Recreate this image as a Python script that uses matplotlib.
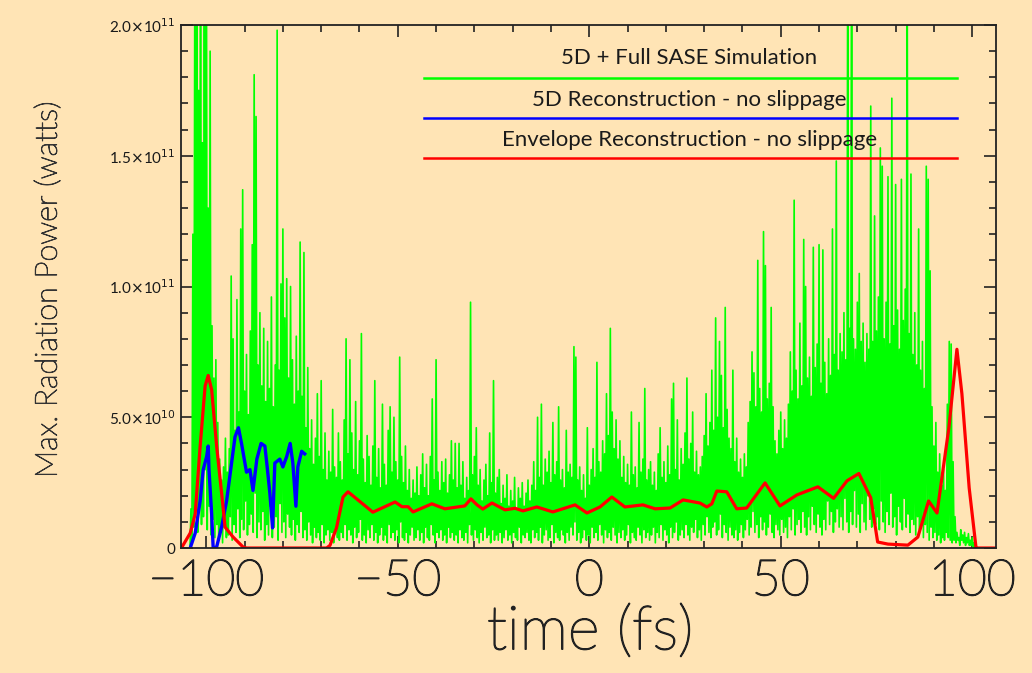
import numpy as np
import matplotlib
matplotlib.use('Agg')
import matplotlib.pyplot as plt
import matplotlib.patheffects as pe
from matplotlib.ticker import FixedLocator, MultipleLocator

BG = '#FFE4B5'
INK = '#1a1a1a'
plt.rcParams['font.family'] = ['Lato', 'DejaVu Sans']

# all powers in units of 1e10 W
# SASE spikes: peak values at t = -104 + 0.5*i fs, floor values 0.25 fs before each peak
green_peak = [
    1.5, 12.0, 22.0, 24.0, 17.5, 26.0, 15.5, 23.0, 28.0, 13.0, 19.0, 8.5, 6.5, 7.2, 4.8, 3.4, 2.6, 3.1, 4.2, 2.9,
    3.8, 10.4, 8.0, 4.5, 9.5, 5.2, 12.2, 13.7, 6.0, 7.4, 5.1, 8.3, 11.6, 18.1, 16.5, 7.0, 9.0, 6.2, 8.4, 5.6,
    7.9, 6.1, 9.6, 5.4, 7.0, 19.8, 6.8, 10.1, 12.2, 8.8, 10.3, 6.5, 10.0, 7.2, 5.5, 8.1, 6.0, 11.7, 5.8, 11.3,
    4.6, 6.9, 3.8, 4.9, 3.2, 4.2, 5.9, 3.5, 6.4, 3.0, 4.4, 2.6, 3.7, 2.9, 5.3, 3.1, 2.7, 4.4, 3.3, 2.6,
    4.9, 8.0, 3.6, 7.2, 4.4, 3.0, 5.6, 2.8, 4.1, 8.2, 3.4, 2.5, 4.3, 3.5, 2.4, 3.9, 6.4, 2.7, 3.8, 2.3,
    5.5, 3.2, 2.4, 4.5, 5.4, 2.9, 5.0, 3.3, 2.6, 7.3, 3.5, 2.5, 3.9, 2.2, 3.0, 1.9, 2.6, 2.1, 3.1, 2.0,
    2.8, 3.6, 2.3, 3.2, 2.0, 3.5, 5.7, 2.6, 7.2, 2.9, 2.2, 3.3, 2.5, 3.4, 2.1, 2.8, 4.1, 2.6, 4.0, 2.3,
    4.0, 2.4, 3.3, 1.9, 2.7, 2.2, 9.4, 2.8, 3.5, 4.6, 2.4, 3.0, 1.8, 2.6, 3.2, 2.0, 4.4, 2.5, 6.4, 2.1,
    2.7, 3.0, 1.7, 2.4, 1.9, 2.8, 1.6, 2.2, 1.8, 2.7, 1.5, 2.3, 1.9, 2.5, 1.6, 2.1, 2.6, 1.8, 2.4, 3.3,
    2.2, 5.0, 2.7, 5.5, 2.4, 3.4, 2.9, 3.7, 2.5, 4.8, 2.8, 3.3, 5.4, 2.6, 3.0, 2.3, 4.5, 2.9, 3.2, 2.7,
    7.7, 7.3, 2.6, 3.1, 2.2, 2.8, 1.9, 4.6, 2.4, 3.0, 3.8, 2.7, 7.1, 3.3, 2.9, 4.1, 3.6, 5.9, 4.3, 8.4,
    5.2, 3.8, 4.9, 3.4, 4.1, 2.7, 3.5, 2.5, 3.2, 2.4, 5.2, 2.8, 3.1, 2.3, 4.8, 2.9, 3.4, 6.1, 2.6, 3.0,
    3.3, 2.4, 2.9, 2.2, 3.6, 4.6, 2.7, 3.3, 2.5, 3.9, 2.8, 5.7, 6.3, 3.0, 4.9, 2.6, 3.8, 3.2, 4.4, 6.5,
    3.4, 4.0, 5.2, 2.9, 3.7, 2.8, 3.1, 3.5, 4.3, 5.9, 3.9, 4.8, 6.8, 4.5, 8.8, 5.0, 7.9, 6.6, 4.6, 9.2,
    5.3, 4.2, 3.8, 6.8, 3.3, 4.2, 2.9, 3.4, 2.7, 3.6, 3.1, 4.8, 5.6, 7.5, 6.7, 5.4, 11.0, 6.1, 5.2, 12.1,
    10.8, 5.7, 6.3, 9.2, 5.4, 4.1, 3.6, 4.5, 5.2, 3.8, 4.9, 4.2, 5.5, 7.5, 6.0, 13.3, 6.8, 5.7, 8.6, 6.2,
    11.8, 10.0, 6.5, 7.3, 5.8, 11.5, 6.9, 7.8, 11.6, 6.3, 11.4, 7.1, 5.9, 8.0, 6.6, 12.2, 7.4, 14.8, 6.8, 8.2,
    7.5, 9.0, 7.2, 25.0, 8.4, 26.0, 8.0, 7.6, 9.4, 10.5, 7.9, 8.6, 7.1, 8.2, 7.6, 16.9, 7.9, 12.7, 8.3, 9.6,
    15.3, 14.6, 8.0, 9.4, 14.2, 7.8, 17.2, 8.5, 13.9, 9.1, 7.6, 14.1, 8.7, 9.9, 24.0, 8.2, 14.3, 7.4, 9.0, 7.0,
    12.2, 6.8, 7.9, 6.1, 14.6, 14.1, 10.6, 5.4, 3.9, 4.8, 2.9, 3.6, 2.4, 3.0, 2.2, 5.5, 7.9, 7.8, 3.3, 1.2,
    0.6, 0.4, 0.7, 0.5, 0.6, 0.4, 0.55, 0.3, 0.4, 0.2, 0.1, 0.0,
]
green_floor = [
    0.0, 0.3, 0.8, 1.5, 0.6, 2.0, 0.9, 1.2, 3.0, 0.7, 1.6, 0.5, 1.1, 0.4, 0.9, 0.3, 0.6, 0.2, 0.8, 0.4,
    0.5, 1.2, 0.3, 0.9, 0.6, 1.5, 0.4, 1.1, 0.7, 1.8, 0.5, 0.9, 1.3, 0.6, 2.1, 0.4, 1.0, 0.7, 1.4, 0.3,
    0.9, 0.5, 1.6, 0.4, 0.8, 1.2, 0.3, 1.7, 0.6, 1.0, 0.4, 1.3, 0.8, 0.5, 1.1, 0.3, 0.9, 0.6, 1.4, 0.4,
    0.7, 0.3, 1.0, 0.5, 0.2, 0.8, 0.4, 0.6, 0.3, 0.9, 0.2, 0.5, 0.7, 0.3, 0.6, 0.2, 0.8, 0.4, 0.3, 0.6,
    0.4, 0.9, 0.3, 0.7, 0.5, 0.2, 0.8, 0.4, 0.6, 1.1, 0.3, 0.5, 0.2, 0.7, 0.4, 0.9, 0.3, 0.6, 0.2, 0.5,
    0.8, 0.3, 0.5, 0.2, 0.9, 0.4, 0.6, 0.3, 0.7, 0.2, 1.0, 0.4, 0.3, 0.6, 0.2, 0.5, 0.8, 0.3, 0.4, 0.7,
    0.3, 0.6, 0.2, 0.8, 0.4, 0.3, 0.9, 0.5, 0.2, 0.6, 0.4, 0.7, 0.3, 0.5, 0.2, 0.8, 0.4, 0.6, 0.3, 0.5,
    0.2, 0.7, 0.4, 0.3, 0.6, 0.2, 0.9, 0.5, 0.3, 0.7, 0.4, 0.2, 0.6, 0.3, 0.8, 0.4, 0.5, 0.2, 0.7, 0.3,
    0.5, 0.3, 0.6, 0.2, 0.4, 0.7, 0.3, 0.5, 0.2, 0.6, 0.4, 0.3, 0.8, 0.2, 0.5, 0.4, 0.6, 0.3, 0.2, 0.7,
    0.4, 0.6, 0.3, 0.8, 0.2, 0.5, 0.7, 0.3, 0.4, 0.9, 0.2, 0.6, 0.4, 0.3, 0.7, 0.5, 0.2, 0.6, 0.3, 0.8,
    0.5, 1.0, 0.3, 0.6, 0.2, 0.4, 0.7, 0.3, 0.5, 0.2, 0.8, 0.4, 0.6, 0.3, 0.9, 0.5, 0.2, 0.7, 0.4, 0.6,
    0.3, 0.8, 0.5, 0.2, 0.6, 0.4, 0.7, 0.3, 0.5, 0.9, 0.2, 0.6, 0.4, 0.3, 0.8, 0.5, 0.2, 0.7, 0.4, 0.6,
    0.3, 0.5, 0.8, 0.2, 0.6, 0.4, 0.9, 0.3, 0.7, 0.5, 0.2, 0.8, 0.4, 0.6, 1.0, 0.3, 0.5, 0.7, 0.4, 0.9,
    0.5, 0.3, 0.8, 0.6, 1.1, 0.4, 0.7, 0.3, 0.9, 0.5, 1.2, 0.6, 0.4, 0.8, 1.0, 0.5, 0.7, 1.3, 0.4, 0.9,
    0.6, 0.3, 0.8, 0.5, 0.4, 0.7, 0.3, 0.6, 0.9, 0.4, 0.7, 1.1, 0.5, 0.8, 1.4, 0.6, 0.9, 0.4, 1.2, 0.7,
    1.0, 0.5, 0.8, 1.3, 0.6, 0.4, 0.9, 0.7, 0.5, 1.1, 0.6, 0.8, 0.4, 1.2, 0.7, 1.5, 0.5, 0.9, 1.1, 0.6,
    1.4, 0.8, 0.5, 1.2, 0.7, 1.6, 0.9, 0.6, 1.3, 0.8, 0.5, 1.1, 0.7, 1.8, 0.9, 1.4, 0.6, 1.0, 1.5, 0.8,
    1.2, 0.7, 1.9, 1.0, 0.6, 1.4, 0.9, 2.2, 0.8, 1.3, 0.6, 1.7, 1.0, 0.7, 2.0, 1.1, 0.8, 1.5, 0.9, 1.2,
    0.7, 1.8, 1.0, 0.6, 1.4, 0.9, 2.1, 0.8, 1.2, 0.5, 1.6, 1.0, 0.7, 1.9, 0.8, 1.3, 0.6, 1.1, 0.9, 0.5,
    1.2, 0.7, 1.0, 0.4, 0.9, 0.6, 0.3, 0.8, 0.4, 0.6, 0.3, 0.5, 0.2, 0.4, 0.3, 0.6, 0.4, 0.3, 0.2, 0.3,
    0.2, 0.3, 0.1, 0.3, 0.2, 0.1, 0.2, 0.1, 0.1, 0.0, 0.0, 0.0,
]

# 5D reconstruction (no slippage)
blue_t = [-104.2, -102.9, -101.6, -100.8, -99.9, -99.5, -99.3, -98.6, -98.2, -97.3, -96.0, -94.7,
          -93.4, -92.5, -91.6, -90.8, -89.5, -88.6, -87.8, -86.8, -85.7, -84.7, -84.1, -83.4,
          -82.7, -82.1, -80.8, -80.0, -79.0, -78.1, -77.4, -76.6, -76.1, -75.1, -74.3]
blue_p = [0, 0.57, 1.8, 3.0, 3.5, 3.9, 3.0, 1.3, 0, 0.04, 0.8, 1.8,
          3.25, 4.25, 4.6, 4.0, 2.9, 3.0, 2.2, 3.4, 4.0, 3.9, 3.1, 2.1,
          0.77, 3.25, 3.4, 3.1, 3.5, 4.0, 3.25, 1.6, 3.1, 3.7, 3.6]

# envelope reconstruction (no slippage)
red_t = [-106.5, -104.2, -102.9, -101.6, -100.3, -99.5, -98.6, -97.3, -96.0, -95.1, -93.0, -90.4,
         -89.5, -68.6, -67.7, -66.0, -64.3, -63.0, -56.5, -50.7, -48.9, -47.3, -46.0, -41.1,
         -37.7, -32.5, -30.9, -29.3, -27.8, -25.4, -22.0, -19.4, -17.3, -13.7, -9.5, -3.7,
         -0.6, 2.8, 5.9, 9.3, 14.0, 17.2, 21.1, 24.5, 28.9, 30.7, 32.0, 33.3,
         35.9, 38.5, 41.1, 45.9, 49.8, 54.2, 59.7, 63.8, 67.3, 70.4, 73.5, 75.3,
         78.0, 83.2, 85.8, 88.6, 90.8, 93.9, 96.0, 97.3, 99.2, 101.0, 106.3]
red_p = [0, 0.57, 1.3, 3.9, 6.2, 6.6, 6.05, 3.9, 2.1, 0.8, 0.42, 0.04,
         0, 0, 0.1, 0.77, 1.95, 2.15, 1.37, 1.76, 1.58, 1.58, 1.38, 1.69,
         1.50, 1.61, 1.88, 1.65, 1.49, 1.72, 1.46, 1.52, 1.42, 1.57, 1.38, 1.65,
         1.34, 1.57, 1.95, 1.57, 1.65, 1.50, 1.53, 1.84, 1.72, 1.57, 1.69, 2.18,
         2.15, 1.50, 1.53, 2.49, 1.61, 2.03, 2.34, 1.9, 2.57, 2.85, 1.92, 0.23,
         0.15, 0.11, 0.42, 1.8, 1.34, 4.6, 7.6, 5.9, 2.3, 0, 0]

legend_labels = ['5D + Full SASE Simulation', '5D Reconstruction - no slippage',
                 'Envelope Reconstruction - no slippage']
legend_colors = ['#00FF00', '#0000FF', '#FF0000']

xtick_vals = [-100, -50, 0, 50, 100]
xtick_labels = ['\u2212100', '\u221250', '0', '50', '100']
ytick_vals = [0, 5e10, 1e11, 1.5e11, 2e11]
ytick_labels = ['0', r'5.0$\times$10$^{10}$', r'1.0$\times$10$^{11}$',
                r'1.5$\times$10$^{11}$', r'2.0$\times$10$^{11}$']

# interleave floors and peaks into one spiky trace
t_peak = -104 + 0.5 * np.arange(len(green_peak))
green_t = np.empty(2 * len(green_peak))
green_t[0::2] = t_peak - 0.25
green_t[1::2] = t_peak
green_p = np.empty(2 * len(green_peak))
green_p[0::2] = green_floor
green_p[1::2] = green_peak

fig = plt.figure(figsize=(10.32, 6.73), dpi=100, facecolor=BG)
ax = fig.add_axes([0.1754, 0.1857, 0.7897, 0.7771], facecolor=BG)

ax.plot(green_t, green_p * 1e10, color='#00FF00', lw=1.2)
ax.plot(blue_t, np.array(blue_p) * 1e10, color='#0000FF', lw=2.4)
ax.plot(red_t, np.array(red_p) * 1e10, color='#FF0000', lw=2.3)

ax.set_xlim(-106.6, 106.2)
ax.set_ylim(0, 2e11)

ax.xaxis.set_major_locator(FixedLocator(xtick_vals))
ax.xaxis.set_minor_locator(MultipleLocator(10))
ax.yaxis.set_major_locator(FixedLocator(ytick_vals))
ax.yaxis.set_minor_locator(MultipleLocator(1e10))
ax.set_xticklabels(xtick_labels)
ax.set_yticklabels(ytick_labels)
ax.tick_params(which='both', direction='in', top=True, right=True, width=1.2, color='#222222')
ax.tick_params(which='major', length=8.5)
ax.tick_params(which='minor', length=5)
ax.tick_params(axis='x', which='major', labelsize=36, pad=8, labelcolor='#222222')
ax.tick_params(axis='y', which='major', labelsize=11, pad=4, labelcolor=INK)

# thin light face thickened a little with a same-coloured stroke
thin = [pe.withStroke(linewidth=1.1, foreground='#222222')]
for lab in ax.get_xticklabels():
    lab.set_fontweight('light')
    lab.set_path_effects(thin)
for s in ax.spines.values():
    s.set_linewidth(1.3)
    s.set_color('#222222')

ax.set_xlabel('time (fs)', fontsize=44, fontweight='light', color='#222222')
ax.xaxis.label.set_path_effects(thin)
ax.xaxis.set_label_coords(0.502, -0.161)
ax.xaxis.label.set_va('center')
ax.set_ylabel('Max. Radiation Power (watts)', fontsize=22, fontweight='light', color='#333333')
ax.yaxis.label.set_path_effects([pe.withStroke(linewidth=0.7, foreground='#333333')])
ax.yaxis.set_label_coords(-0.163, 0.493)
ax.yaxis.label.set_va('center')

# legend drawn like the original: centred label with a coloured rule below it
text_y = [0.937, 0.857, 0.780]
line_y = [0.899, 0.822, 0.746]
for lab, col, ty, ly in zip(legend_labels, legend_colors, text_y, line_y):
    ax.text(0.624, ty, lab, transform=ax.transAxes, ha='center', va='center',
            fontsize=16, color=INK)
    ax.plot([0.298, 0.952], [ly, ly], transform=ax.transAxes, color=col, lw=1.8)

fig.savefig('out.png', dpi=100, facecolor=BG)
